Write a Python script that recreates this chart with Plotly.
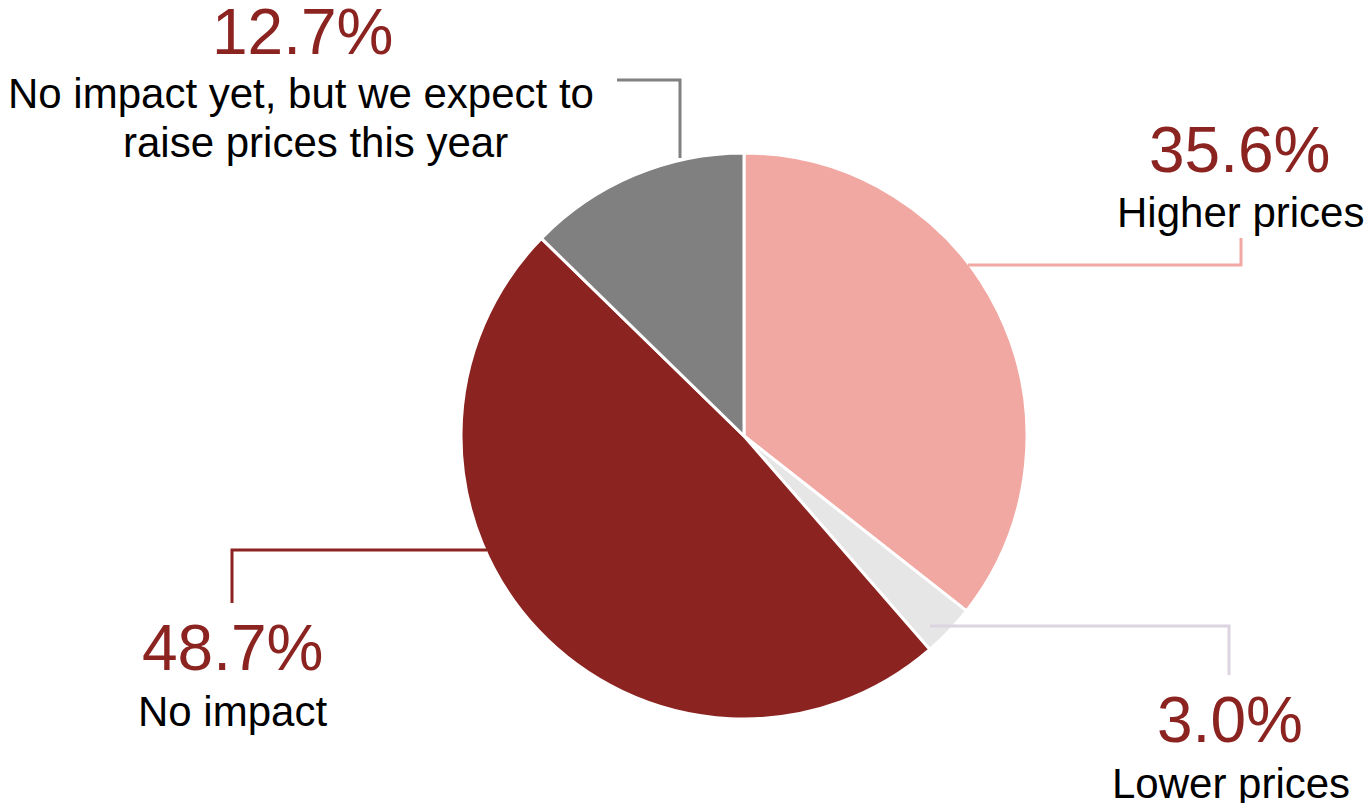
import plotly.graph_objects as go

# ---- data ----
categories = ["Higher prices", "Lower prices", "No impact",
              "No impact yet, but we expect to<br>raise prices this year"]
values = [35.6, 3.0, 48.7, 12.7]
pct_labels = ["35.6%", "3.0%", "48.7%", "12.7%"]
colors = ["#F2A8A2", "#E6E6E6", "#8B2320", "#808080"]
line_colors = ["#F2A8A2", "#DCD4E0", "#8B2320", "#808080"]

W, H = 1365, 803
FONT = "Liberation Sans"
PCT_COLOR = "#8B2320"


def px(x):
    return x / W


def py(y):
    return 1 - y / H


fig = go.Figure(go.Pie(
    labels=[c.replace("<br>", " ") for c in categories],
    values=values,
    marker=dict(colors=colors, line=dict(color="white", width=3)),
    sort=False,
    direction="clockwise",
    rotation=0,
    textinfo="none",
    hoverinfo="label+percent",
    domain=dict(x=[px(461), px(1027)], y=[py(719), py(153)]),
    showlegend=False,
))

# label positions (layout): pct center, then one center per label line
pct_pos = [(1239, 150), (1230, 720), (232, 648), (302, 32)]
line_pos = [
    [(1240, 213)],
    [(1231, 783)],
    [(232, 711)],
    [(301, 93), (315, 142)],
]
# leader lines (layout) as polylines
leaders = [
    [(968, 265), (1241, 265), (1241, 238)],
    [(930, 626), (1229, 626), (1229, 675)],
    [(487, 550), (232, 550), (232, 603)],
    [(680, 158), (680, 80), (617, 80)],
]

annotations = []
shapes = []
for i in range(len(values)):
    pxc, pyc = pct_pos[i]
    annotations.append(dict(
        x=px(pxc), y=py(pyc), xref="paper", yref="paper",
        text=pct_labels[i], showarrow=False, xanchor="center", yanchor="middle",
        font=dict(family=FONT, size=64, color=PCT_COLOR)))
    for txt, (lx, ly) in zip(categories[i].split("<br>"), line_pos[i]):
        annotations.append(dict(
            x=px(lx), y=py(ly), xref="paper", yref="paper",
            text=txt, showarrow=False, xanchor="center", yanchor="middle",
            font=dict(family=FONT, size=42, color="black")))
    pts = leaders[i]
    path = "M " + " L ".join(f"{px(a)},{py(b)}" for a, b in pts)
    shapes.append(dict(type="path", xref="paper", yref="paper", path=path,
                       line=dict(color=line_colors[i], width=3)))

fig.update_layout(
    width=W, height=H,
    margin=dict(l=0, r=0, t=0, b=0),
    paper_bgcolor="white", plot_bgcolor="white",
    annotations=annotations, shapes=shapes,
    font=dict(family=FONT),
)

fig.write_html("out.html")
